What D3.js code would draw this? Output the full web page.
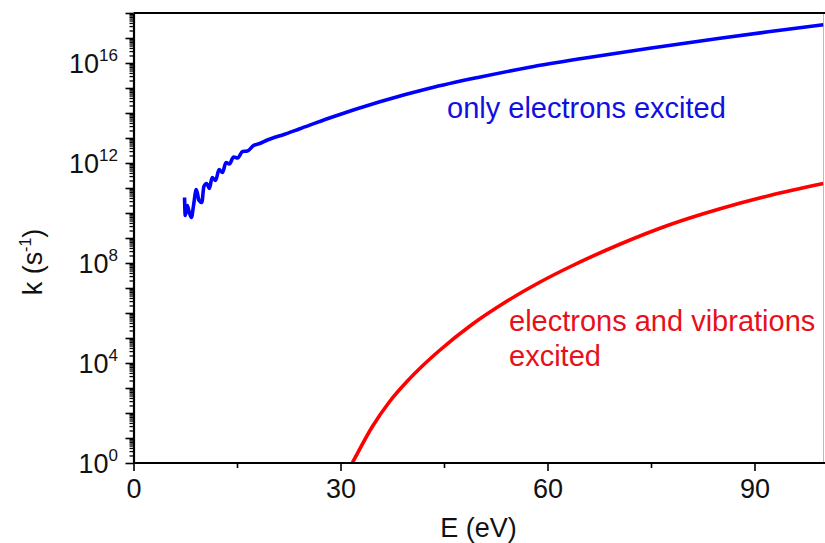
<!DOCTYPE html>
<html>
<head>
<meta charset="utf-8">
<script src="https://cdn.jsdelivr.net/npm/d3@7"></script>
<style>
  body { margin: 0; background: #fff; }
  text { font-family: 'Liberation Sans', Arial, sans-serif; }
</style>
</head>
<body>
<div id="chart"></div>
<script>
// energy (eV) and log10 of rate k (s^-1)
const blueE = [7.4, 7.5, 7.8, 8.1, 8.4, 8.7, 9.1, 9.5, 9.9, 10.2, 10.6, 11.0, 11.4, 11.9,
  12.4, 12.9, 13.4, 13.9, 14.5, 15.1, 15.8, 16.5, 17.4, 18.3, 19.4, 20.5, 21.6, 24.1,
  28.4, 35.7, 42.9, 50.1, 57.4, 65, 74.8, 85, 92, 100];
const blueLogK = [10.62, 9.9, 10.3, 10.0, 9.82, 10.3, 10.94, 10.5, 10.42, 11.06, 11.18, 10.98,
  11.42, 11.3, 11.74, 11.62, 12.02, 11.96, 12.24, 12.2, 12.46, 12.48, 12.7, 12.78, 12.92,
  13.03, 13.12, 13.37, 13.8, 14.45, 14.99, 15.43, 15.83, 16.18, 16.59, 16.99, 17.25, 17.53];

const redE = [31.0, 31.7, 34.6, 37.1, 39.6, 41.9, 44.3, 49.1, 54.1, 58.8, 63.2, 70.4, 77.7,
  84.9, 92.2, 100];
const redLogK = [-0.35, 0.0, 1.45, 2.45, 3.25, 3.89, 4.49, 5.55, 6.47, 7.22, 7.84, 8.74, 9.53,
  10.16, 10.7, 11.18];

const xTicks = [0, 30, 60, 90];
const xMinorTicks = [15, 45, 75];
const yLabelExps = [0, 4, 8, 12, 16];

const width = 825;
const height = 543;
const margin = { top: 13, right: 1.5, bottom: 80, left: 133.5 };

const svg = d3
  .select('#chart')
  .append('svg')
  .attr('width', width)
  .attr('height', height);

const x = d3
  .scaleLinear()
  .domain([0, 100])
  .range([margin.left, width - margin.right]);

const y = d3
  .scaleLog()
  .domain([1, 1e18])
  .range([height - margin.bottom, margin.top]);

// plot clip
svg
  .append('clipPath')
  .attr('id', 'clip')
  .append('rect')
  .attr('x', margin.left)
  .attr('y', margin.top)
  .attr('width', width - margin.right - margin.left)
  .attr('height', height - margin.bottom - margin.top);

// right border (cut off, faint)
svg
  .append('line')
  .attr('x1', width - margin.right)
  .attr('x2', width - margin.right)
  .attr('y1', margin.top)
  .attr('y2', height - margin.bottom)
  .attr('stroke', '#bbb')
  .attr('stroke-width', 1);

// top border
svg
  .append('line')
  .attr('x1', margin.left)
  .attr('x2', width)
  .attr('y1', margin.top)
  .attr('y2', margin.top)
  .attr('stroke', '#000')
  .attr('stroke-width', 2);

const line = d3
  .line()
  .x((d) => x(d[0]))
  .y((d) => y(d[1]))
  .curve(d3.curveMonotoneX);

const plot = svg.append('g').attr('clip-path', 'url(#clip)');

plot
  .append('path')
  .datum(redE.map((e, i) => [e, Math.pow(10, redLogK[i])]))
  .attr('fill', 'none')
  .attr('stroke', '#ff0000')
  .attr('stroke-width', 3.6)
  .attr('d', line);

plot
  .append('path')
  .datum(blueE.map((e, i) => [e, Math.pow(10, blueLogK[i])]))
  .attr('fill', 'none')
  .attr('stroke', '#0000ff')
  .attr('stroke-width', 3.6)
  .attr('stroke-linejoin', 'round')
  .attr('d', line);

// y axis: minor ticks, then major ticks
const yMinor = [];
const yMajor = [];
for (let e = 0; e <= 18; e++) {
  yMajor.push(Math.pow(10, e));
  if (e < 18) for (let m = 2; m <= 9; m++) yMinor.push(m * Math.pow(10, e));
}

svg
  .append('g')
  .attr('transform', `translate(${margin.left},0)`)
  .call(d3.axisLeft(y).tickValues(yMinor).tickSize(4).tickFormat(''))
  .call((g) => g.select('.domain').remove())
  .selectAll('line')
  .attr('stroke-width', 1.3);

const yAxis = svg
  .append('g')
  .attr('transform', `translate(${margin.left},0)`)
  .call(d3.axisLeft(y).tickValues(yMajor).tickSize(8).tickSizeOuter(0).tickFormat(''));
yAxis.select('.domain').attr('stroke-width', 2.2);
yAxis.selectAll('.tick line').attr('stroke-width', 1.6);

const yLabels = svg
  .append('g')
  .selectAll('text')
  .data(yLabelExps)
  .enter()
  .append('text')
  .attr('x', 118)
  .attr('y', (d) => y(Math.pow(10, d)) + 10)
  .attr('text-anchor', 'end')
  .style('font-size', '27px')
  .attr('fill', '#111');
yLabels.append('tspan').text('10');
yLabels
  .append('tspan')
  .attr('dy', -12)
  .style('font-size', '17px')
  .text((d) => d);

// x axis
svg
  .append('g')
  .attr('transform', `translate(0,${height - margin.bottom})`)
  .call(d3.axisBottom(x).tickValues(xMinorTicks).tickSize(5).tickFormat(''))
  .call((g) => g.select('.domain').remove())
  .selectAll('line')
  .attr('stroke-width', 1.6);

const xAxis = svg
  .append('g')
  .attr('transform', `translate(0,${height - margin.bottom})`)
  .call(d3.axisBottom(x).tickValues(xTicks).tickSize(8).tickSizeOuter(0));
xAxis.select('.domain').attr('stroke-width', 2.2).attr('d', `M${margin.left},0H${width}`);
xAxis.selectAll('.tick line').attr('stroke-width', 1.6);
xAxis
  .selectAll('.tick text')
  .attr('y', 16)
  .attr('dy', '0.71em')
  .style('font-size', '27px')
  .style('font-family', "'Liberation Sans', Arial, sans-serif")
  .attr('fill', '#111');

// axis titles
svg
  .append('text')
  .attr('x', x(50))
  .attr('y', 537)
  .attr('text-anchor', 'middle')
  .style('font-size', '27px')
  .attr('fill', '#111')
  .text('E (eV)');

const yTitle = svg
  .append('text')
  .attr('transform', 'translate(42,262) rotate(-90)')
  .attr('text-anchor', 'middle')
  .style('font-size', '27px')
  .attr('fill', '#111');
yTitle.append('tspan').text('k (s');
yTitle.append('tspan').attr('dy', -11).style('font-size', '16px').text('-1');
yTitle.append('tspan').attr('dy', 11).text(')');

// annotations
svg
  .append('text')
  .attr('x', 447)
  .attr('y', 118)
  .style('font-size', '29px')
  .attr('fill', '#1010e0')
  .text('only electrons excited');

svg
  .append('text')
  .attr('x', 509)
  .attr('y', 331)
  .style('font-size', '29px')
  .attr('fill', '#e8101a')
  .text('electrons and vibrations');

svg
  .append('text')
  .attr('x', 509)
  .attr('y', 366)
  .style('font-size', '29px')
  .attr('fill', '#e8101a')
  .text('excited');
</script>
</body>
</html>
